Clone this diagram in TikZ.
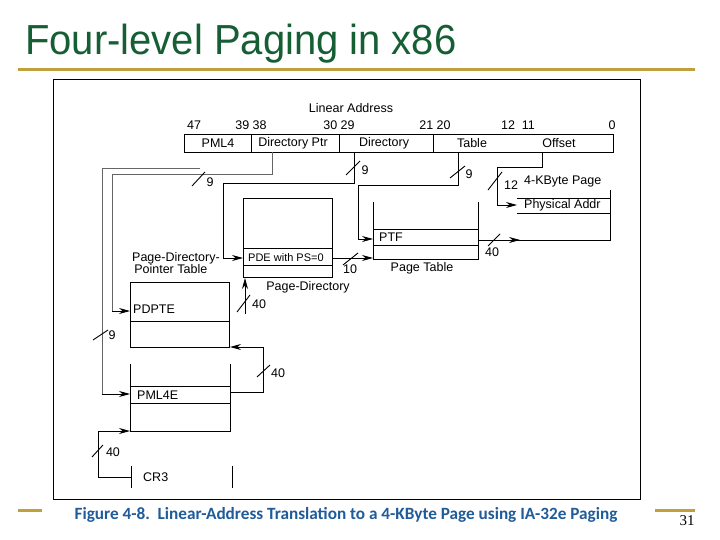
\documentclass[tikz,border=0pt]{standalone}
\usepackage{fontspec}
\setmainfont{Liberation Sans}
\newfontfamily\capfont{Carlito}
\newfontfamily\numfont{Liberation Serif}
\usetikzlibrary{arrows.meta}
\definecolor{titlegreen}{RGB}{22,94,52}
\definecolor{gold}{RGB}{192,160,60}
\definecolor{capblue}{RGB}{31,92,153}
\begin{document}
\begin{tikzpicture}[x=1pt,y=-1pt,
  wire/.style={line width=0.9pt},
  gwire/.style={line width=1pt, black!60},
  arr/.style={-{Stealth[length=11pt,width=6pt]}},
  slash/.style={line width=0.9pt},
  lbl/.style={font=\fontsize{12.5}{13}\selectfont, inner sep=0pt},
  small/.style={font=\fontsize{11}{12}\selectfont, inner sep=0pt},
]
\useasboundingbox (0,0) rectangle (720,540);
\fill[white] (0,0) rectangle (720,540);
% title and rules
\node[anchor=base west, inner sep=0pt, text=titlegreen, font=\fontsize{40}{44}\selectfont, yscale=1.05] (title) at (25,55) {Four-level Paging in x86};
\draw[gold, line width=3pt] (18,70) -- (695,70);
\draw[gold, line width=3pt] (18,510) -- (42,510);
\draw[gold, line width=3pt] (655,510) -- (695,510);
\draw[line width=1pt] (53,80) rectangle (640,499);
\node[inner sep=0pt, text=capblue, font=\capfont\bfseries\fontsize{17.2}{18}\selectfont] (caption) at (346,515) {Figure 4-8.\ \ Linear-Address Translation to a 4-KByte Page using IA-32e Paging};
\node[inner sep=0pt, font=\numfont\fontsize{15}{16}\selectfont] (pagenum) at (687,521) {31};

% linear address
\node[lbl] (la) at (351,108) {Linear Address};
\node[lbl] (b47) at (194,125) {47};
\node[lbl] (b39) at (251,125) {39 38};
\node[lbl] (b30) at (339,125) {30 29};
\node[lbl] (b21) at (435,125) {21 20};
\node[lbl] (b12) at (518,125) {12\ \ 11};
\node[lbl] (b0) at (612,125) {0};
\draw[wire] (184,134) rectangle (613,152);
\draw[wire] (251,134) -- (251,152) (339,134) -- (339,152) (433,134) -- (433,152);
\node[lbl] (fpml4) at (218,143) {PML4};
\node[lbl] (fdp) at (293,143) {Directory Ptr};
\node[lbl] (fdir) at (384,143) {Directory};
\node[lbl] (ftab) at (472,143) {Table};
\node[lbl] (foff) at (559,143) {Offset};

% Page directory
\coordinate (pdTL) at (243,198); \coordinate (pdBR) at (332,277);
\draw[wire] (pdTL) rectangle (pdBR);
\draw[wire] (243,248) -- (332,248) (243,265) -- (332,265);
\node[small, anchor=west] (pde) at (248,258) {PDE with PS=0};
\node[lbl] (pdlbl) at (308,287) {Page-Directory};

% PDPT
\draw[wire] (130,282) rectangle (229,347);
\draw[wire] (130,321) -- (229,321);
\node[lbl, anchor=west] (pdpte) at (133,309) {PDPTE};
\node[lbl, anchor=north west, align=left, font=\fontsize{12.5}{11.5}\selectfont] (pdptlbl) at (132,252) {Page-Directory-\\\,Pointer Table};

% PML4 table
\draw[wire] (130,364) -- (130,431) -- (230,431) -- (230,364);
\draw[wire] (130,386) -- (230,386) (130,403) -- (230,403);
\node[lbl, anchor=west] (pml4e) at (137,395) {PML4E};

% CR3
\draw[wire] (131,466) -- (131,488) (232,466) -- (232,488);
\node[lbl, anchor=west] (cr3) at (143,477) {CR3};

% Page table
\draw[wire] (373,202) -- (373,259) -- (478,259) -- (478,202);
\draw[wire] (373,229) -- (478,229) (373,245) -- (478,245);
\node[lbl, anchor=west] (ptf) at (379,237) {PTF};
\node[lbl] (ptlbl) at (422,268) {Page Table};

% 4-KByte page
\draw[wire] (517,198) -- (610,198) (517,213) -- (610,213);
\node[lbl, anchor=west] (kpage) at (524,181) {4-KByte Page};
\node[lbl, anchor=west] (paddr) at (524,205) {Physical Addr};

% wires from linear address
\draw[gwire] (200,169) -- (102,169) -- (102,394);
\draw[wire, arr] (102,394) -- (130,394);
\draw[gwire] (272,152) -- (272,175) -- (112,175) -- (112,311);
\draw[wire, arr] (112,311) -- (130,311);
\draw[wire, arr] (354,152) -- (354,183) -- (223,183) -- (223,258) -- (243,258);
\draw[wire, arr] (458,152) -- (458,185) -- (358,185) -- (358,239) -- (373,239);
\draw[wire, arr] (542,152) -- (542,167) -- (497,167) -- (497,205) -- (517,205);

% table to table
\draw[wire, arr] (332,258) -- (373,258);
\draw[wire] (478,240) -- (610,240) -- (610,190);
\draw[wire, arr] (478,240) -- (520,240);
\draw[wire, arr] (245,314) -- (245,278);
\draw[wire, arr] (230,392) -- (263,392) -- (263,347) -- (230,347);
\draw[wire, arr] (131,477) -- (98,477) -- (98,431) -- (130,431);

% slashes
\draw[slash] (192,186) -- (205,172);  \node[lbl] (n1) at (210,182) {9};
\draw[slash] (346,175) -- (360,161);  \node[lbl] (n2) at (365,170) {9};
\draw[slash] (450,178) -- (465,166);  \node[lbl] (n3) at (469,174) {9};
\draw[slash] (488,190) -- (502,172);  \node[lbl] (n4) at (511,185) {12};
\draw[slash] (488,246) -- (500,234);  \node[lbl] (n5) at (492,252) {40};
\draw[slash] (343,265) -- (358,253);  \node[lbl] (n6) at (350,269) {10};
\draw[slash] (237,312) -- (250,295);  \node[lbl] (n7) at (259,304) {40};
\draw[slash] (257,377) -- (270,365);  \node[lbl] (n8) at (278,373) {40};
\draw[slash] (93,340) -- (108,330);   \node[lbl] (n9) at (112,335) {9};
\draw[slash] (92,457) -- (103,445);   \node[lbl] (n10) at (113,452) {40};
\end{tikzpicture}
\end{document}
